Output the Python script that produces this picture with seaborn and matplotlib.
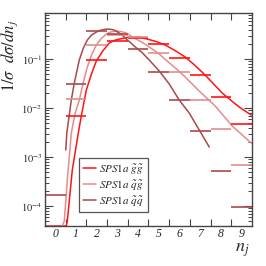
import numpy as np
import pandas as pd
import matplotlib
matplotlib.use("Agg")
import matplotlib.pyplot as plt
import seaborn as sns
from matplotlib.lines import Line2D
from matplotlib.ticker import FixedLocator, FixedFormatter, LogLocator, NullFormatter

# ---------------- data ----------------
bin_edges = [-0.5, 0.5, 1.5, 2.5, 3.5, 4.5, 5.5, 6.5, 7.5, 8.5, 9.5]
labels = [r"$SPS1a\ \tilde{g}\tilde{g}$", r"$SPS1a\ \tilde{q}\tilde{g}$", r"$SPS1a\ \tilde{q}\tilde{q}$"]

hist_gg = [np.nan, 0.00687, 0.0954, 0.233, 0.268, 0.202, 0.105, 0.0471, 0.0168, 0.00471]
hist_qg = [np.nan, 0.0153, 0.193, 0.309, 0.281, 0.132, 0.0543, 0.0146, 0.00373, 0.000687]
hist_qq = [1.67e-4, 0.0309, 0.373, 0.324, 0.160, 0.0543, 0.0146, 0.00340, 0.000518, 9.5e-5]

curve_gg_n = [-0.5, 0.531, 0.580, 0.821, 1.111, 1.256, 1.498, 1.75, 1.981, 2.3, 2.609, 2.85, 3.092,
              3.575, 4.058, 4.444, 4.9, 5.314, 5.8, 6.280, 6.75, 7.246, 7.65, 8.068, 8.48, 8.889, 9.469]
curve_gg_log = [-4.408, -4.408, -4.306, -3.265, -2.510, -2.163, -1.633, -1.30, -1.041, -0.83, -0.673,
                -0.62, -0.592, -0.551, -0.551, -0.592, -0.645, -0.714, -0.83, -0.959, -1.13,
                -1.327, -1.51, -1.694, -1.84, -1.980, -2.143]

curve_qg_n = [0.338, 0.435, 0.580, 0.773, 0.95, 1.159, 1.35, 1.546, 1.75, 1.981, 2.2, 2.464, 2.7,
              2.947, 3.2, 3.430, 3.816, 4.2, 4.541, 5.0, 5.411, 5.85, 6.280, 6.957, 7.729, 8.551, 9.469]
curve_qg_log = [-4.408, -4.306, -3.469, -2.510, -2.12, -1.837, -1.48, -1.163, -0.92, -0.714, -0.59,
                -0.490, -0.445, -0.429, -0.44, -0.469, -0.571, -0.66, -0.755, -0.89, -1.041, -1.20,
                -1.367, -1.653, -1.959, -2.367, -2.714]

curve_qq_n = [0.507, 0.556, 0.773, 0.918, 1.159, 1.35, 1.546, 1.75, 1.981, 2.2, 2.464, 2.65, 2.850,
              3.1, 3.333, 3.816, 4.2, 4.541, 5.024, 5.507, 5.990, 6.473, 6.957, 7.440]
curve_qq_log = [-2.857, -2.510, -1.837, -1.490, -1.020, -0.78, -0.612, -0.51, -0.449, -0.41, -0.388,
                -0.39, -0.408, -0.47, -0.551, -0.735, -0.87, -1.020, -1.245, -1.510, -1.837,
                -2.102, -2.449, -2.796]

x_tick_labels = ["0", "1", "2", "3", "4", "5", "6", "7", "8", "9"]
y_tick_values = [1e-4, 1e-3, 1e-2, 1e-1]
y_tick_labels = [r"$\mathit{10}^{\mathit{-4}}$", r"$\mathit{10}^{\mathit{-3}}$",
                 r"$\mathit{10}^{\mathit{-2}}$", r"$\mathit{10}^{\mathit{-1}}$"]

colors = ["#ff1414", "#e48c8c", "#a84a4a"]

# ---------------- style ----------------
sns.set_style("ticks")
plt.rcParams["font.family"] = ["Liberation Serif", "DejaVu Serif"]
plt.rcParams["mathtext.fontset"] = "stix"

fig = plt.figure(figsize=(2.66, 2.66), dpi=100)
ax = fig.add_axes([0.169, 0.150, 0.778, 0.801])

# curves
frames = []
for name, nn, lg in [("gg", curve_gg_n, curve_gg_log),
                     ("qg", curve_qg_n, curve_qg_log),
                     ("qq", curve_qq_n, curve_qq_log)]:
    frames.append(pd.DataFrame({"n": nn, "v": 10 ** np.array(lg), "proc": name}))
df = pd.concat(frames, ignore_index=True)
sns.lineplot(data=df, x="n", y="v", hue="proc", palette=dict(zip(["gg", "qg", "qq"], colors)),
             sort=False, estimator=None, legend=False, linewidth=1.1, ax=ax)

# histograms as horizontal segments
edges = np.array(bin_edges)
for h, c in zip([hist_gg, hist_qg, hist_qq], colors):
    ax.hlines(h, edges[:-1], edges[1:], colors=c, linewidth=1.2)

ax.set_yscale("log")
ax.set_xlim(-0.5, 9.5)
ax.set_ylim(3.9e-5, 0.87)

# x ticks: labels at integers (no ticks), ticks at bin edges
ax.xaxis.set_major_locator(FixedLocator(list(range(10))))
ax.xaxis.set_major_formatter(FixedFormatter(x_tick_labels))
ax.xaxis.set_minor_locator(FixedLocator(bin_edges[1:-1]))
ax.tick_params(axis="x", which="major", length=0, pad=1.5, labelsize=8.5)
ax.tick_params(axis="x", which="minor", length=5, direction="in", top=True, bottom=True,
               width=0.8, color="#444444")
for t in ax.get_xticklabels():
    t.set_fontstyle("italic")

ax.yaxis.set_major_locator(FixedLocator(y_tick_values))
ax.yaxis.set_major_formatter(FixedFormatter(y_tick_labels))
ax.yaxis.set_minor_locator(LogLocator(base=10, subs=np.arange(2, 10)))
ax.yaxis.set_minor_formatter(NullFormatter())
ax.tick_params(axis="y", which="major", length=6, direction="in", left=True, right=True,
               labelsize=7.5, pad=2, width=0.8, color="#444444")
ax.tick_params(axis="y", which="minor", length=3, direction="in", left=True, right=True,
               width=0.7, color="#444444")

for s in ax.spines.values():
    s.set_color("#444444")
    s.set_linewidth(1.0)

ax.set_ylabel(r"$1/\sigma\ \ d\sigma/dn_j$", fontsize=12)
ax.yaxis.set_label_coords(-0.12, 0.80)
ax.set_xlabel(r"$n_j$", fontsize=13)
ax.xaxis.set_label_coords(0.955, -0.07)

handles = [Line2D([], [], color=c, linewidth=1.1) for c in colors]
leg = ax.legend(handles, labels, loc="lower left", bbox_to_anchor=(0.164, 0.066),
                borderaxespad=0, fontsize=8, frameon=True, fancybox=False,
                handlelength=1.2, handletextpad=0.3, labelspacing=0.2,
                borderpad=0.35, framealpha=1)
leg.get_frame().set_edgecolor("#555555")
leg.get_frame().set_linewidth(0.9)

fig.savefig("out.png", dpi=100)
